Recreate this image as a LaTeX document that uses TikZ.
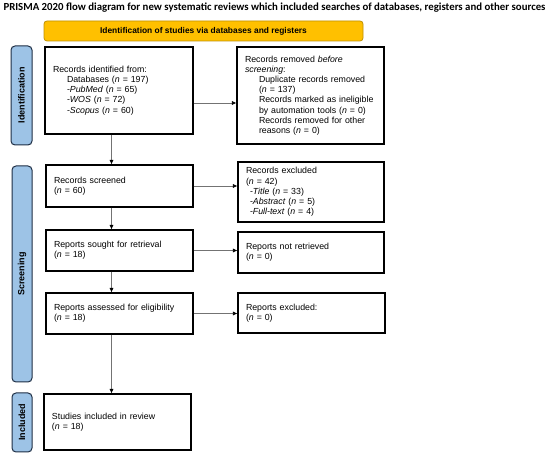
\documentclass[tikz,border=0pt]{standalone}
\usepackage{fontspec}
\setmainfont{Liberation Sans}
\newfontfamily\titlefont{Carlito}
\usetikzlibrary{arrows.meta}
\definecolor{prismayellow}{HTML}{FFC000}
\definecolor{prismayellowdark}{HTML}{BF9000}
\definecolor{prismablue}{HTML}{9DC3E6}
\definecolor{prismabluedark}{HTML}{1F2F45}
\begin{document}
\begin{tikzpicture}[x=1pt,y=-1pt,
 box/.style={draw=black, line width=1.1pt, fill=white, inner xsep=8pt, inner ysep=1pt, align=left, font=\fontsize{8.8}{10.2}\selectfont},
 side/.style={draw=prismabluedark, line width=1pt, fill=prismablue, rounded corners=4pt, inner sep=0pt, rotate=90, font=\bfseries\fontsize{9}{10}\selectfont},
 bar/.style={draw=prismayellowdark, line width=0.8pt, fill=prismayellow, rounded corners=3pt, inner sep=0pt, font=\bfseries\fontsize{8.4}{10}\selectfont},
 arr/.style={draw=black!55, line width=0.6pt, -{Latex[length=4.5pt,width=4pt,color=black]}},
]
\useasboundingbox[fill=white] (0,0) rectangle (550,457);

\node[font=\titlefont\bfseries\fontsize{10.8}{12}\selectfont] (title) at (274.5,8) {PRISMA 2020 flow diagram for new systematic reviews which included searches of databases, registers and other sources};

\node[bar, minimum width=319pt, minimum height=20pt] (idbar) at (203.5,31) {Identification of studies via databases and registers};

\node[side, minimum width=99pt, minimum height=21pt] (sid) at (21.5,95.5) {Identification};
\node[side, minimum width=216pt, minimum height=20pt] (sscr) at (22,274) {Screening};
\node[side, minimum width=59pt, minimum height=20pt] (sinc) at (22,422.5) {Included};

\node[box, text width=132pt, minimum height=87pt] (b1) at (119,90.5) {Records identified from:\\
\hspace*{14pt}Databases (\textit{n} = 197)\\
\hspace*{14pt}-\textit{PubMed} (\textit{n} = 65)\\
\hspace*{14pt}-\textit{WOS} (\textit{n} = 72)\\
\hspace*{14pt}-\textit{Scopus} (\textit{n} = 60)};

\node[box, text width=131pt, minimum height=97pt] (b2) at (310.5,95.5) {Records removed \textit{before}\\
\textit{screening}:\\
\hspace*{14pt}Duplicate records removed\\
\hspace*{14pt}(\textit{n} = 137)\\
\hspace*{14pt}Records marked as ineligible\\
\hspace*{14pt}by automation tools (\textit{n} = 0)\\
\hspace*{14pt}Records removed for other\\
\hspace*{14pt}reasons (\textit{n} = 0)};

\node[box, text width=131pt, minimum height=42pt] (b3) at (119.5,186) {Records screened\\(\textit{n} = 60)};

\node[box, text width=130pt, minimum height=60pt] (b4) at (311,192) {Records excluded\\
(\textit{n} = 42)\\
\hspace*{4pt}-\textit{Title} (\textit{n} = 33)\\
\hspace*{4pt}-\textit{Abstract} (\textit{n} = 5)\\
\hspace*{4pt}-\textit{Full-text} (\textit{n} = 4)};

\node[box, text width=131pt, minimum height=41pt] (b5) at (119.5,250.5) {Reports sought for retrieval\\(\textit{n} = 18)};
\node[box, text width=130pt, minimum height=41pt] (b6) at (311,252.5) {Reports not retrieved\\(\textit{n} = 0)};

\node[box, text width=131pt, minimum height=41pt] (b7) at (119.5,313.5) {Reports assessed for eligibility\\(\textit{n} = 18)};
\node[box, text width=131pt, minimum height=40pt] (b8) at (311.5,313) {Reports excluded:\\(\textit{n} = 0)};

\node[box, text width=131pt, minimum height=56pt] (b9) at (117.5,422) {Studies included in review\\(\textit{n} = 18)};

\coordinate (v) at (111.5,0);
\coordinate (h1) at (0,103);
\draw[arr] (b1.south -| v) -- (b3.north -| v);
\draw[arr] (b3.south -| v) -- (b5.north -| v);
\draw[arr] (b5.south -| v) -- (b7.north -| v);
\draw[arr] (b7.south -| v) -- (b9.north -| v);
\draw[arr] (b1.east |- h1) -- (b2.west |- h1);
\draw[arr] (b3.east) -- (b3.east -| b4.west);
\draw[arr] (b5.east) -- (b5.east -| b6.west);
\draw[arr] (b7.east) -- (b7.east -| b8.west);
\end{tikzpicture}
\end{document}
